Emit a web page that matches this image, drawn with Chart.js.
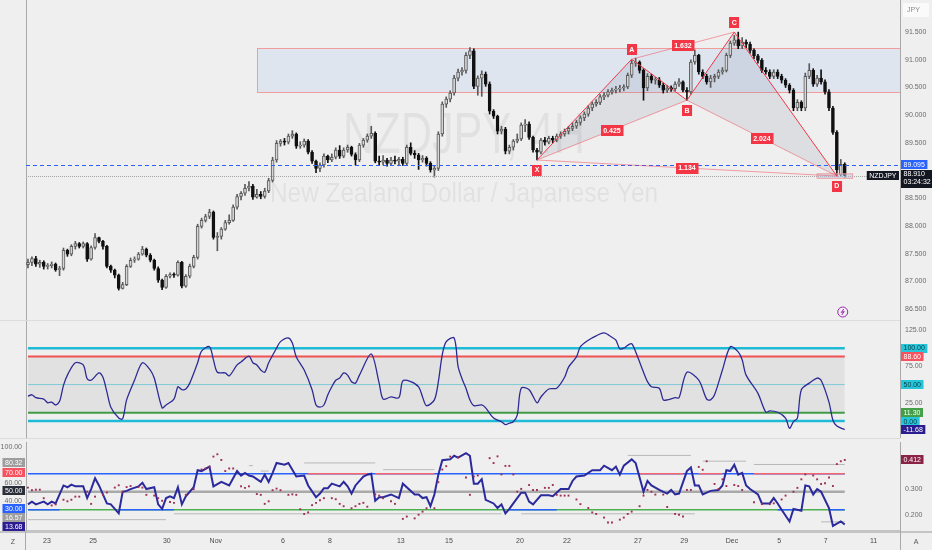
<!DOCTYPE html>
<html>
<head>
<meta charset="utf-8">
<title>NZDJPY 4H</title>
<script src="https://cdn.jsdelivr.net/npm/chart.js@4.4.1/dist/chart.umd.min.js"></script>
<style>
  html, body { margin: 0; padding: 0; background: #efefef; }
  #wrap { position: relative; width: 932px; height: 550px; overflow: hidden; background: #efefef; }
  #wrap canvas { position: absolute; left: 0; }
</style>
</head>
<body>
<div id="wrap">
  <canvas id="price" width="932" height="320" style="top:0"></canvas>
  <canvas id="cci" width="932" height="118" style="top:320px"></canvas>
  <canvas id="osc" width="932" height="112" style="top:438px"></canvas>
</div>
<script>
Chart.defaults.font.family = '"Liberation Sans", Arial, sans-serif';
Chart.defaults.font.size = 7;
Chart.defaults.color = '#6b6b6b';

// ---- time axis (candle index -> day label) ----
var dateIdx = [4.8, 16.5, 35.2, 47.6, 64.6, 76.5, 94.5, 106.7, 124.7, 136.6, 154.6, 166.3, 178.4, 190.4, 202.2, 214.3];
var dateLbl = ['23', '25', '30', 'Nov', '6', '8', '13', '15', '20', '22', '27', '29', 'Dec', '5', '7', '11'];

// ---- NZDJPY 4H candles ----
var opens = [
  87.30,87.34,87.41,87.31,87.34,87.27,87.28,87.31,87.21,87.23,
  87.56,87.49,87.63,87.68,87.63,87.68,87.40,87.61,87.79,87.72,
  87.63,87.27,87.20,87.11,86.87,86.94,87.27,87.38,87.40,87.49,
  87.58,87.47,87.38,87.23,87.02,86.89,87.09,87.12,87.11,87.34,
  86.91,87.09,87.27,87.43,87.99,88.10,88.17,88.25,87.79,87.81,
  87.94,88.06,88.10,88.34,88.53,88.59,88.68,88.72,88.52,88.57,
  88.53,88.63,88.82,89.19,89.49,89.53,89.51,89.62,89.66,89.44,
  89.46,89.53,89.33,89.17,89.04,89.10,89.26,89.19,89.24,89.37,
  89.26,89.37,89.42,89.29,89.19,89.46,89.55,89.62,89.67,89.17,
  89.15,89.19,89.13,89.19,89.17,89.20,89.13,89.42,89.31,89.28,
  89.19,89.22,89.13,89.01,89.04,89.66,90.20,90.29,90.40,90.67,
  90.78,90.81,91.08,91.16,90.52,90.67,90.74,90.56,90.07,89.98,
  89.71,89.75,89.35,89.42,89.53,89.57,89.82,89.84,89.60,89.37,
  89.33,89.55,89.51,89.58,89.55,89.62,89.66,89.71,89.76,89.80,
  89.87,89.95,90.02,90.13,90.20,90.23,90.33,90.36,90.42,90.45,
  90.47,90.49,90.51,90.72,90.94,90.96,90.81,90.49,90.70,90.63,
  90.64,90.54,90.45,90.49,90.48,90.56,90.60,90.45,90.42,90.96,
  91.08,90.78,90.70,90.60,90.67,90.70,90.78,90.81,91.08,91.30,
  91.36,91.25,91.32,91.28,91.17,91.07,90.99,90.81,90.78,90.70,
  90.78,90.70,90.63,90.54,90.45,90.13,90.23,90.13,90.70,90.81,
  90.56,90.67,90.60,90.42,90.13,89.69,88.92,89.11
];
var highs = [
  87.40,87.44,87.45,87.38,87.37,87.32,87.35,87.33,87.27,87.60,
  87.58,87.66,87.72,87.70,87.71,87.70,87.64,87.86,87.80,87.74,
  87.65,87.29,87.22,87.13,86.98,87.30,87.42,87.44,87.52,87.63,
  87.60,87.50,87.40,87.26,87.04,87.12,87.15,87.15,87.37,87.36,
  87.12,87.31,87.47,88.03,88.14,88.21,88.30,88.27,87.88,87.97,
  88.10,88.20,88.38,88.57,88.62,88.75,88.80,88.75,88.66,88.62,
  88.68,88.86,89.24,89.54,89.56,89.58,89.66,89.72,89.68,89.52,
  89.57,89.56,89.36,89.19,89.14,89.30,89.28,89.30,89.41,89.45,
  89.41,89.46,89.44,89.32,89.49,89.58,89.66,89.80,89.70,89.26,
  89.27,89.22,89.24,89.26,89.24,89.24,89.46,89.50,89.36,89.31,
  89.27,89.25,89.16,89.08,89.70,90.24,90.33,90.44,90.72,90.83,
  90.86,91.13,91.22,91.20,90.71,90.80,90.78,90.60,90.10,90.00,
  89.80,89.78,89.46,89.56,89.66,89.86,89.92,89.88,89.62,89.40,
  89.58,89.60,89.62,89.62,89.66,89.70,89.75,89.80,89.86,89.91,
  89.99,90.06,90.17,90.24,90.28,90.37,90.41,90.46,90.49,90.52,
  90.54,90.55,90.76,90.99,91.03,90.98,90.84,90.75,90.74,90.68,
  90.68,90.58,90.54,90.53,90.60,90.66,90.62,90.50,91.00,91.18,
  91.10,90.82,90.74,90.72,90.74,90.82,90.86,91.12,91.34,91.44,
  91.50,91.40,91.36,91.32,91.20,91.10,91.02,90.86,90.82,90.82,
  90.82,90.74,90.66,90.57,90.48,90.28,90.26,90.76,90.93,90.84,
  90.72,90.82,90.64,90.46,90.16,89.72,89.20,89.14
];
var lows = [
  87.24,87.28,87.27,87.25,87.22,87.22,87.24,87.18,87.10,87.20,
  87.45,87.46,87.58,87.60,87.60,87.36,87.38,87.58,87.69,87.58,
  87.24,87.16,87.06,86.84,86.86,86.92,87.25,87.34,87.38,87.47,
  87.44,87.35,87.20,86.98,86.85,86.87,87.06,87.07,87.09,86.88,
  86.89,87.06,87.24,87.40,87.96,88.07,88.13,87.76,87.55,87.76,
  87.92,88.03,88.08,88.30,88.47,88.55,88.63,88.48,88.50,88.49,
  88.50,88.60,88.79,89.15,89.44,89.46,89.48,89.58,89.40,89.40,
  89.42,89.30,89.13,88.96,88.98,89.06,89.14,89.16,89.21,89.22,
  89.23,89.33,89.26,89.10,89.16,89.42,89.51,89.58,89.14,89.10,
  89.10,89.08,89.10,89.12,89.10,89.09,89.10,89.28,89.22,89.02,
  89.15,89.08,88.97,88.88,89.00,89.62,90.14,90.24,90.36,90.62,
  90.72,90.76,91.02,90.48,90.36,90.34,90.52,90.02,89.94,89.66,
  89.66,89.30,89.30,89.37,89.50,89.54,89.70,89.56,89.33,89.19,
  89.30,89.46,89.48,89.50,89.52,89.58,89.62,89.66,89.72,89.76,
  89.82,89.90,89.98,90.08,90.16,90.19,90.28,90.33,90.38,90.40,
  90.42,90.44,90.48,90.68,90.88,90.76,90.27,90.44,90.58,90.56,
  90.50,90.40,90.41,90.43,90.44,90.52,90.42,90.27,90.38,90.92,
  90.74,90.66,90.56,90.50,90.60,90.66,90.74,90.78,91.04,91.26,
  91.20,91.20,91.22,91.12,91.02,90.94,90.77,90.74,90.66,90.66,
  90.66,90.58,90.50,90.40,90.08,90.08,90.08,90.08,90.66,90.52,
  90.52,90.56,90.38,90.08,89.65,88.90,88.90,88.88
];
var closes = [
  87.34,87.41,87.31,87.34,87.27,87.28,87.31,87.21,87.23,87.56,
  87.49,87.63,87.68,87.63,87.68,87.40,87.61,87.79,87.72,87.63,
  87.27,87.20,87.11,86.87,86.94,87.27,87.38,87.40,87.49,87.58,
  87.47,87.38,87.23,87.02,86.89,87.09,87.12,87.11,87.34,86.91,
  87.09,87.27,87.43,87.99,88.10,88.17,88.25,87.79,87.81,87.94,
  88.06,88.10,88.34,88.53,88.59,88.68,88.72,88.52,88.57,88.53,
  88.63,88.82,89.19,89.49,89.53,89.51,89.62,89.66,89.44,89.46,
  89.53,89.33,89.17,89.04,89.10,89.26,89.19,89.24,89.37,89.26,
  89.37,89.42,89.29,89.19,89.46,89.55,89.62,89.67,89.17,89.15,
  89.19,89.13,89.19,89.17,89.20,89.13,89.42,89.31,89.28,89.19,
  89.22,89.13,89.01,89.04,89.66,90.20,90.29,90.40,90.67,90.78,
  90.81,91.08,91.16,90.52,90.67,90.74,90.56,90.07,89.98,89.71,
  89.75,89.35,89.42,89.53,89.57,89.82,89.84,89.60,89.37,89.33,
  89.55,89.51,89.58,89.55,89.62,89.66,89.71,89.76,89.80,89.87,
  89.95,90.02,90.13,90.20,90.23,90.33,90.36,90.42,90.45,90.47,
  90.49,90.51,90.72,90.94,90.96,90.81,90.49,90.70,90.63,90.64,
  90.54,90.45,90.49,90.48,90.56,90.60,90.45,90.42,90.96,91.08,
  90.78,90.70,90.60,90.67,90.70,90.78,90.81,91.08,91.30,91.36,
  91.25,91.32,91.28,91.17,91.07,90.99,90.81,90.78,90.70,90.78,
  90.70,90.63,90.54,90.45,90.13,90.23,90.13,90.70,90.81,90.56,
  90.67,90.60,90.42,90.13,89.69,89.01,89.11,88.91
];
var priceTicks = [91.5, 91, 90.5, 90, 89.5, 88.5, 88, 87.5, 87, 86.5];
var markPrice = 89.095;
var countdown = '03:24:32';
var symbolTitle = 'NZDJPY, 4H';
var symbolName = 'New Zealand Dollar / Japanese Yen';

// supply zone and XABCD pattern
var zoneStart = 58, zoneTop = 91.21, zoneBottom = 90.42;
var dBoxStart = 200, dBoxEnd = 209, dBoxTop = 88.94, dBoxBottom = 88.86;
var patLbl = ['X', 'A', 'B', 'C', 'D'];
var patIdx = [129, 153, 167, 179, 205];
var patPrice = [89.19, 91.01, 90.27, 91.50, 88.90];
var ratioText = ['0.425', '1.632', '2.024', '1.134'];

// ---- CCI-type oscillator ----
var cciIdx = [0,1,2,4,5,6,7,8,9,10,12,14,15,16,18,19,20,21,23,24,25,27,29,31,32,34,35,37,38,39,40,41,43,44,46,47,48,50,51,53,
  54,56,57,58,59,60,61,63,64,66,67,68,70,72,73,74,75,76,77,78,79,80,81,82,83,84,87,89,90,92,94,95,97,99,100,101,103,104,105,106,
  108,109,110,111,112,113,115,116,118,120,121,122,123,124,125,127,129,130,132,134,136,137,139,140,142,144,146,148,149,150,
  151,152,153,154,156,157,158,160,161,162,164,165,167,170,172,173,174,176,178,180,181,182,185,187,188,190,192,193,194,195,
  196,198,200,201,203,204,205,207];
var cciVal = [34,36,32,30,25,26,22,27,49,63,80,77,58,56,66,60,40,19,4,3,29,56,80,70,59,18,22,30,47,43,44,52,80,96,102,84,67,66,62,77,
  81,89,80,77,70,67,80,100,109,114,107,88,70,43,22,19,22,36,47,56,59,66,63,54,52,63,92,52,30,33,32,55,54,47,33,21,29,54,91,109,
  114,75,58,45,29,21,22,18,4,-1,-5,-3,-1,8,45,43,25,33,44,45,60,74,88,102,111,117,121,115,111,99,
  100,104,106,95,67,54,47,45,29,29,32,32,67,56,30,29,36,70,102,95,84,63,38,12,14,12,4,-10,-1,4,
  43,52,59,56,26,1,-7,-11.68];
var cciLevels = [100, 88.6, 50, 11.3, 0];
var cciTicks = [125, 75, 25];

// ---- lower oscillator (left 0-100 line, right-scale dots) ----
var rsiIdx = [0,1,2,4,5,6,7,9,10,11,12,14,15,16,17,18,20,21,23,24,25,26,28,29,30,32,33,34,35,36,37,38,39,40,42,43,44,46,47,49,
  51,53,54,55,56,57,58,59,60,61,62,63,65,66,68,70,71,73,74,75,76,77,79,80,81,82,83,85,86,87,88,89,90,92,94,95,98,99,100,101,
  102,103,104,105,107,108,109,111,112,113,114,115,116,118,119,120,121,122,123,125,126,127,128,130,132,133,135,137,138,139,
  141,143,145,146,148,149,150,151,153,154,156,157,158,160,162,163,164,165,167,168,169,170,171,173,175,176,177,178,179,180,
  181,182,183,185,186,188,189,190,191,193,194,196,197,198,199,200,201,203,204,206,207];
var rsiVal = [36,39,36,39,36,39,37,57,55,58,56,56,43,53,65,57,37,36,26,50,51,53,56,60,53,55,36,31,43,45,43,55,36,45,55,74,73,78,56,61,
  57,73,68,71,68,67,64,61,69,61,71,82,80,82,67,68,57,44,48,54,54,59,56,61,56,48,57,67,69,70,40,44,44,47,43,59,47,47,43,44,
  34,47,69,85,86,90,88,93,90,59,59,64,41,37,32,36,26,31,37,49,49,39,36,46,46,45,53,53,62,67,
  68,74,74,79,74,78,69,79,86,82,50,62,57,52,48,52,47,48,73,77,57,57,47,51,52,57,74,73,80,69,
  71,57,53,47,37,37,43,37,30,17,31,29,57,56,47,53,50,32,12,17,13.68];
var dotIdx = [0,1,2,3,4,6,7,9,10,11,12,13,15,16,17,19,20,22,23,24,25,26,28,29,30,32,33,34,36,37,40,42,44,45,46,47,48,49,50,51,
  52,54,55,56,58,59,60,61,62,63,64,66,67,68,69,70,71,72,73,74,75,77,78,79,80,82,83,84,85,86,88,89,90,92,93,95,96,98,99,100,
  101,103,104,105,106,107,109,111,112,113,114,117,118,119,120,121,122,123,124,125,127,128,129,131,132,133,134,135,136,137,
  139,140,142,143,144,146,147,148,150,151,152,153,155,156,157,158,159,161,162,164,165,166,167,168,170,171,172,174,175,176,
  177,179,180,181,184,186,188,189,191,192,194,195,196,197,199,200,201,202,203,204,205,206,207];
var dotVal = [.305,.295,.297,.297,.264,.236,.240,.258,.252,.258,.270,.270,.289,.242,.270,.277,.286,.305,.314,.289,.307,.311,.307,.305,.277,.274,.264,.254,.249,.246,.277,.299,.375,.379,.385,.425,.434,.412,.369,.379,
  .379,.310,.304,.310,.280,.277,.242,.252,.295,.301,.295,.277,.279,.277,.221,.203,.209,.237,.246,.256,.264,.264,.260,.242,.233,.225,.233,.242,.246,.231,.279,.274,.264,.252,.242,.184,.193,.186,.200,.212,
  .225,.225,.326,.375,.388,.425,.422,.344,.277,.348,.352,.419,.400,.426,.356,.389,.389,.356,.289,.300,.315,.296,.296,.304,.304,.315,.277,.274,.274,.274,
  .259,.241,.226,.209,.203,.189,.170,.170,.181,.189,.203,.212,.233,.274,.296,.289,.278,.278,.230,.203,.200,.193,.296,.296,.385,.374,.407,.319,.300,.337,
  .311,.315,.311,.296,.248,.241,.241,.244,.259,.274,.289,.304,.337,.356,.352,.337,.319,.322,.344,.311,.396,.407,.412];
var oscLevels = [70, 50, 30];
var hiRanges = [[71, 86], [88, 103], [155, 166], [170, 176], [184, 207]];
var loRanges = [[0, 8], [23, 37], [122, 134], [190, 196], [203, 207]];
var segFrom = [0, 37, 125, 56, 59, 70, 90, 152, 171, 184, 201];
var segTo = [35, 120, 169, 57, 61, 88, 103, 168, 182, 207, 207];
var segLevel = [19, 25.5, 25.5, 79, 73, 82, 74.5, 90.4, 84, 80.32, 16.57];
var bandTags = [80.32, 16.57];
var oscLeftTicks = [100, 60, 40];
var oscRightTicks = [0.3, 0.2];

// ---- helpers ----
var FONT = '7px "Liberation Sans", Arial, sans-serif';
var BOLD = 'bold 7px "Liberation Sans", Arial, sans-serif';
var lastIdx = closes.length - 1;
var axisLine = '#a9a9a9';
function up(i) { return closes[i] >= opens[i]; }
function fitRight(s) { s.width = 32; s.paddingTop = 0; s.paddingBottom = 0; }
function fitLeft(s) { s.width = 26; s.paddingTop = 0; s.paddingBottom = 0; }
function xScale(show) {
  var sc = { type: 'linear', min: -0.5, max: 221, offset: false, display: show,
    grid: { display: false, drawTicks: false } };
  if (show) {
    sc.border = { display: true, color: '#c4c4c4', width: 2 };
    sc.ticks = { autoSkip: false, maxRotation: 0, padding: 6, color: '#4a4a4a',
      callback: function (v, i) { return dateLbl[i]; } };
    sc.afterBuildTicks = function (s) { s.ticks = dateIdx.map(function (v) { return { value: v }; }); };
    sc.afterFit = function (s) { s.height = 19; };
  }
  return sc;
}
function valueAxis(pos, min, max, ticks, digits) {
  var sc = { position: pos, min: min, max: max,
    grid: { display: false, drawTicks: false },
    border: { display: true, color: axisLine, width: 1 },
    afterFit: pos === 'right' ? fitRight : fitLeft };
  if (ticks) {
    sc.ticks = { padding: pos === 'right' ? 5 : 4, color: '#6b6b6b',
      callback: function (v) { return Number(v).toFixed(digits); } };
    sc.afterBuildTicks = function (s) { s.ticks = ticks.map(function (v) { return { value: v }; }); };
  } else {
    sc.ticks = { display: false };
  }
  return sc;
}
function flat(v) { return [{ x: 0, y: v }, { x: lastIdx, y: v }]; }
function pieces(ranges, v) {
  var out = [];
  ranges.forEach(function (r) { out.push({ x: r[0], y: v }, { x: r[1], y: v }, { x: r[1], y: null }); });
  return out;
}
function levelSet(data, color, width, order, axis) {
  return { data: data, borderColor: color, borderWidth: width, pointRadius: 0, order: order, yAxisID: axis || 'y', spanGaps: false };
}
function tagRight(ctx, y, text, bg, fg, x0) {
  ctx.font = FONT;
  var w = ctx.measureText(text).width + 5;
  ctx.fillStyle = bg;
  ctx.fillRect(x0, Math.round(y - 4.5), w, 9);
  ctx.fillStyle = fg; ctx.textAlign = 'left'; ctx.textBaseline = 'middle';
  ctx.fillText(text, x0 + 2.5, y + 0.5);
}
function tagLeft(ctx, y, text, bg, fg, xr) {
  ctx.font = FONT;
  var w = ctx.measureText(text).width + 5;
  ctx.fillStyle = bg;
  ctx.fillRect(xr - w, Math.round(y - 4.5), w, 9);
  ctx.fillStyle = fg; ctx.textAlign = 'right'; ctx.textBaseline = 'middle';
  ctx.fillText(text, xr - 2.5, y + 0.5);
}
function spread(items, h) {
  items.sort(function (a, b) { return a.y - b.y; });
  for (var k = 0; k < 6; k++) {
    for (var i = 1; i < items.length; i++) {
      var d = items[i].y - items[i - 1].y;
      if (d < h) { var s = (h - d) / 2; items[i].y += s; items[i - 1].y -= s; }
    }
  }
  return items;
}
function redBox(ctx, cx, cy, text) {
  ctx.font = BOLD;
  var w = Math.max(9, ctx.measureText(text).width + 5);
  ctx.fillStyle = '#f23645';
  ctx.fillRect(Math.round(cx - w / 2), Math.round(cy - 5.5), w, 11);
  ctx.fillStyle = '#ffffff'; ctx.textAlign = 'center'; ctx.textBaseline = 'middle';
  ctx.fillText(text, cx, cy + 0.5);
}
function watermark(ctx, text, cx, base, size, width) {
  ctx.font = size + 'px "Liberation Sans", Arial, sans-serif';
  var w = ctx.measureText(text).width;
  ctx.save();
  ctx.translate(cx, base);
  ctx.scale(width / w, 1);
  ctx.textAlign = 'center'; ctx.textBaseline = 'alphabetic';
  ctx.fillText(text, 0, 0);
  ctx.restore();
}
function clipArea(ctx, a) {
  ctx.beginPath(); ctx.rect(a.left, a.top, a.right - a.left, a.bottom - a.top); ctx.clip();
}
function hline(ctx, x1, x2, y) {
  ctx.beginPath(); ctx.moveTo(x1, y); ctx.lineTo(x2, y); ctx.stroke();
}

// ---- price pane overlays ----
var priceOverlay = {
  id: 'priceOverlay',
  beforeDatasetsDraw: function (chart) {
    var ctx = chart.ctx, xs = chart.scales.x, ys = chart.scales.y, a = chart.chartArea;
    ctx.save();
    clipArea(ctx, a);
    ctx.fillStyle = 'rgba(0,0,0,0.055)';
    watermark(ctx, symbolTitle, 464, 153, 57, 242);
    watermark(ctx, symbolName, 464, 202, 28, 388);

    var zl = Math.round(xs.getPixelForValue(zoneStart)) + 0.5;
    var zt = Math.round(ys.getPixelForValue(zoneTop)) + 0.5;
    var zb = Math.round(ys.getPixelForValue(zoneBottom)) + 0.5;
    ctx.fillStyle = 'rgba(170,200,240,0.25)';
    ctx.fillRect(zl, zt, a.right - zl, zb - zt);
    ctx.strokeStyle = '#f29c9c'; ctx.lineWidth = 1;
    ctx.strokeRect(zl, zt, a.right - zl + 2, zb - zt);

    var p = patIdx.map(function (v, i) { return [xs.getPixelForValue(v), ys.getPixelForValue(patPrice[i])]; });
    ctx.fillStyle = 'rgba(100,110,140,0.13)';
    [[0, 1, 2], [2, 3, 4]].forEach(function (t) {
      ctx.beginPath();
      ctx.moveTo(p[t[0]][0], p[t[0]][1]);
      ctx.lineTo(p[t[1]][0], p[t[1]][1]);
      ctx.lineTo(p[t[2]][0], p[t[2]][1]);
      ctx.closePath(); ctx.fill();
    });
    ctx.restore();
  },
  afterDatasetsDraw: function (chart) {
    var ctx = chart.ctx, xs = chart.scales.x, ys = chart.scales.y, a = chart.chartArea;
    ctx.save();
    clipArea(ctx, a);
    ctx.lineWidth = 1;
    var ym = Math.round(ys.getPixelForValue(markPrice)) + 0.5;
    ctx.strokeStyle = '#2962ff'; ctx.setLineDash([4, 3]);
    hline(ctx, a.left, a.right, ym);
    var yc = Math.round(ys.getPixelForValue(closes[lastIdx])) + 0.5;
    ctx.strokeStyle = '#a6a6a6'; ctx.setLineDash([1, 1]);
    hline(ctx, a.left, a.right, yc);
    ctx.setLineDash([]);

    // D completion box
    var dl = xs.getPixelForValue(dBoxStart), dr = xs.getPixelForValue(dBoxEnd);
    var dt = ys.getPixelForValue(dBoxTop), db = ys.getPixelForValue(dBoxBottom);
    ctx.fillStyle = 'rgba(170,200,240,0.45)';
    ctx.fillRect(dl, dt, dr - dl, db - dt);
    ctx.strokeStyle = '#f29c9c';
    ctx.strokeRect(dl, dt, dr - dl, db - dt);

    var p = patIdx.map(function (v, i) { return [xs.getPixelForValue(v), ys.getPixelForValue(patPrice[i])]; });
    var ratioPairs = [[0, 2], [1, 3], [2, 4], [0, 4]];
    ctx.strokeStyle = 'rgba(242,54,69,0.45)';
    ratioPairs.forEach(function (r) {
      ctx.beginPath(); ctx.moveTo(p[r[0]][0], p[r[0]][1]); ctx.lineTo(p[r[1]][0], p[r[1]][1]); ctx.stroke();
    });
    ctx.strokeStyle = '#f23645';
    ctx.beginPath();
    p.forEach(function (q, i) { if (i === 0) ctx.moveTo(q[0], q[1]); else ctx.lineTo(q[0], q[1]); });
    ctx.stroke();
    ratioPairs.forEach(function (r, i) {
      redBox(ctx, (p[r[0]][0] + p[r[1]][0]) / 2, (p[r[0]][1] + p[r[1]][1]) / 2, ratioText[i]);
    });
    ctx.restore();
    p.forEach(function (q, i) {
      redBox(ctx, q[0], q[1] + (i % 2 === 0 ? 10 : -10), patLbl[i]);
    });

    // event marker
    var ex = xs.getPixelForValue(lastIdx) - 2, ey = a.bottom - 8;
    ctx.save();
    ctx.strokeStyle = '#9c27b0'; ctx.lineWidth = 1;
    ctx.beginPath(); ctx.arc(ex, ey, 5, 0, Math.PI * 2); ctx.stroke();
    ctx.beginPath(); ctx.moveTo(ex + 1, ey - 3); ctx.lineTo(ex - 1.5, ey + 0.5); ctx.lineTo(ex + 1.5, ey - 0.5); ctx.lineTo(ex - 1, ey + 3); ctx.stroke();
    ctx.restore();
  },
  afterDraw: function (chart) {
    var ctx = chart.ctx, ys = chart.scales.y;
    ctx.save();
    ctx.fillStyle = '#fafafa';
    ctx.fillRect(903, 3, 26, 14);
    ctx.fillStyle = '#8a8a8a'; ctx.font = FONT; ctx.textAlign = 'left'; ctx.textBaseline = 'middle';
    ctx.fillText('JPY', 907, 10.5);

    var ym = ys.getPixelForValue(markPrice);
    tagRight(ctx, ym - 0.5, markPrice.toFixed(3), '#2962ff', '#ffffff', 901);
    var yc = ys.getPixelForValue(closes[lastIdx]);
    ctx.fillStyle = '#131722';
    ctx.fillRect(901, Math.round(yc - 5.5), 31, 18);
    ctx.fillStyle = '#ffffff'; ctx.font = FONT; ctx.textAlign = 'left'; ctx.textBaseline = 'middle';
    ctx.fillText(closes[lastIdx].toFixed(3), 903.5, yc - 1);
    ctx.fillText(countdown, 903.5, yc + 7);
    ctx.font = FONT;
    var w = ctx.measureText('NZDJPY').width + 5;
    ctx.fillStyle = '#131722';
    ctx.fillRect(899 - w, Math.round(yc - 4.5), w, 9);
    ctx.fillStyle = '#ffffff'; ctx.textAlign = 'right';
    ctx.fillText('NZDJPY', 896.5, yc + 0.5);
    ctx.restore();
  }
};

new Chart(document.getElementById('price'), {
  type: 'bar',
  data: {
    datasets: [
      { data: closes.map(function (c, i) { return { x: i, y: [lows[i], highs[i]] }; }),
        barThickness: 1, grouped: false, order: 2,
        backgroundColor: function (c) { return up(c.dataIndex) ? '#5a5a5a' : '#111111'; } },
      { data: closes.map(function (c, i) { return { x: i, y: [opens[i], c] }; }),
        barThickness: 3, grouped: false, order: 1, minBarLength: 1, borderSkipped: false,
        backgroundColor: function (c) { return up(c.dataIndex) ? '#d6d6d6' : '#111111'; },
        borderColor: function (c) { return up(c.dataIndex) ? '#5a5a5a' : '#111111'; },
        borderWidth: 1 }
    ]
  },
  options: {
    responsive: false, animation: false, events: [],
    layout: { padding: 0 },
    plugins: { legend: { display: false }, tooltip: { enabled: false } },
    scales: {
      x: xScale(false),
      y: valueAxis('right', 86.30, 92.08, priceTicks, 3),
      yl: valueAxis('left', 0, 1, null)
    }
  },
  plugins: [priceOverlay]
});

// ---- CCI pane ----
var cciOverlay = {
  id: 'cciOverlay',
  afterDraw: function (chart) {
    var ctx = chart.ctx, ys = chart.scales.y;
    ctx.save();
    ctx.strokeStyle = '#dcdcdc'; ctx.lineWidth = 1;
    hline(ctx, 0, 900, 0.5);
    var styles = { 100: ['#26c6da', '#0b3d44'], 88.6: ['#f7525f', '#ffffff'], 50: ['#26c6da', '#0b3d44'], 11.3: ['#43a047', '#ffffff'], 0: ['#26c6da', '#0b3d44'] };
    var items = cciLevels.map(function (v) { return { y: ys.getPixelForValue(v), t: v.toFixed(2), bg: styles[v][0], fg: styles[v][1] }; });
    var last = cciVal[cciVal.length - 1];
    items.push({ y: ys.getPixelForValue(last), t: last.toFixed(2), bg: '#2b1d8f', fg: '#ffffff' });
    spread(items, 8.6).forEach(function (it) { tagRight(ctx, it.y, it.t, it.bg, it.fg, 901); });
    ctx.restore();
  }
};

new Chart(document.getElementById('cci'), {
  type: 'line',
  data: {
    datasets: [
      { data: cciIdx.map(function (x, i) { return { x: x, y: cciVal[i] }; }),
        borderColor: '#2d2a93', borderWidth: 1.3, pointRadius: 0, tension: 0.3, order: 0 },
      Object.assign(levelSet(flat(cciLevels[1]), '#f05252', 1.8, 2), { fill: { value: cciLevels[3] }, backgroundColor: 'rgba(0,0,0,0.055)' }),
      levelSet(flat(cciLevels[0]), '#1fbad6', 2.6, 3),
      levelSet(flat(cciLevels[2]), '#86d6e2', 1, 3),
      levelSet(flat(cciLevels[3]), '#43a047', 1.8, 3),
      levelSet(flat(cciLevels[4]), '#1fbad6', 2.6, 3)
    ]
  },
  options: {
    responsive: false, animation: false, events: [],
    layout: { padding: 0 },
    plugins: { legend: { display: false }, tooltip: { enabled: false } },
    scales: {
      x: xScale(false),
      y: valueAxis('right', -23.35, 138.7, cciTicks, 2),
      yl: valueAxis('left', 0, 1, null)
    }
  },
  plugins: [cciOverlay]
});

// ---- lower oscillator pane ----
var oscOverlay = {
  id: 'oscOverlay',
  afterDraw: function (chart) {
    var ctx = chart.ctx, yl = chart.scales.yl, yr = chart.scales.yr, a = chart.chartArea;
    ctx.save();
    ctx.strokeStyle = '#dcdcdc'; ctx.lineWidth = 1;
    hline(ctx, 0, 900, 0.5);
    ctx.strokeStyle = '#c4c4c4'; ctx.lineWidth = 2;
    hline(ctx, 0, 932, a.bottom + 1);
    ctx.strokeStyle = axisLine; ctx.lineWidth = 1;
    ctx.beginPath(); ctx.moveTo(25.5, a.bottom); ctx.lineTo(25.5, 112); ctx.moveTo(900.5, a.bottom); ctx.lineTo(900.5, 112); ctx.stroke();

    var left = [
      { y: yl.getPixelForValue(bandTags[0]), t: bandTags[0].toFixed(2), bg: '#9e9e9e', fg: '#ffffff' },
      { y: yl.getPixelForValue(oscLevels[0]), t: oscLevels[0].toFixed(2), bg: '#f7525f', fg: '#ffffff' },
      { y: yl.getPixelForValue(oscLevels[1]), t: oscLevels[1].toFixed(2), bg: '#2a2e39', fg: '#ffffff' },
      { y: yl.getPixelForValue(oscLevels[2]), t: oscLevels[2].toFixed(2), bg: '#2962ff', fg: '#ffffff' },
      { y: yl.getPixelForValue(bandTags[1]), t: bandTags[1].toFixed(2), bg: '#9e9e9e', fg: '#ffffff' },
      { y: yl.getPixelForValue(rsiVal[rsiVal.length - 1]), t: rsiVal[rsiVal.length - 1].toFixed(2), bg: '#2b1d8f', fg: '#ffffff' }
    ];
    spread(left, 9).forEach(function (it) { tagLeft(ctx, it.y - 1.5, it.t, it.bg, it.fg, 25); });
    var lastDot = dotVal[dotVal.length - 1];
    tagRight(ctx, yr.getPixelForValue(lastDot), lastDot.toFixed(3), '#8b2346', '#ffffff', 901);

    ctx.fillStyle = '#555555'; ctx.font = FONT; ctx.textAlign = 'center'; ctx.textBaseline = 'middle';
    ctx.fillText('Z', 13, 104);
    ctx.fillText('A', 916, 104);
    ctx.restore();
  }
};

new Chart(document.getElementById('osc'), {
  type: 'line',
  data: {
    datasets: [
      { data: dotIdx.map(function (x, i) { return { x: x, y: dotVal[i] }; }), yAxisID: 'yr',
        showLine: false, pointStyle: 'rect', pointRadius: 1.35, pointBorderWidth: 0,
        pointBackgroundColor: '#9d2f52', order: 0 },
      { data: rsiIdx.map(function (x, i) { return { x: x, y: rsiVal[i] }; }), yAxisID: 'yl',
        borderColor: '#2b2a9c', borderWidth: 2, pointRadius: 0, tension: 0, order: 1 },
      levelSet(pieces(hiRanges, oscLevels[0]), '#f5676e', 1.6, 2, 'yl'),
      levelSet(pieces(loRanges, oscLevels[2]), '#2962ff', 1.6, 2, 'yl'),
      levelSet(flat(oscLevels[0]), '#2962ff', 1.5, 3, 'yl'),
      levelSet(flat(oscLevels[1]), '#a9a9a9', 2.5, 3, 'yl'),
      levelSet(flat(oscLevels[2]), '#4caf50', 1.5, 3, 'yl'),
      levelSet(segFrom.reduce(function (out, f, i) {
        out.push({ x: f, y: segLevel[i] }, { x: segTo[i], y: segLevel[i] }, { x: segTo[i], y: null });
        return out;
      }, []), '#b8b8b8', 1, 4, 'yl')
    ]
  },
  options: {
    responsive: false, animation: false, events: [],
    layout: { padding: 0 },
    plugins: { legend: { display: false }, tooltip: { enabled: false } },
    scales: {
      x: xScale(true),
      yr: valueAxis('right', 0.137, 0.4815, oscRightTicks, 3),
      yl: valueAxis('left', 6.4, 105.3, oscLeftTicks, 2)
    }
  },
  plugins: [oscOverlay]
});
</script>
</body>
</html>
